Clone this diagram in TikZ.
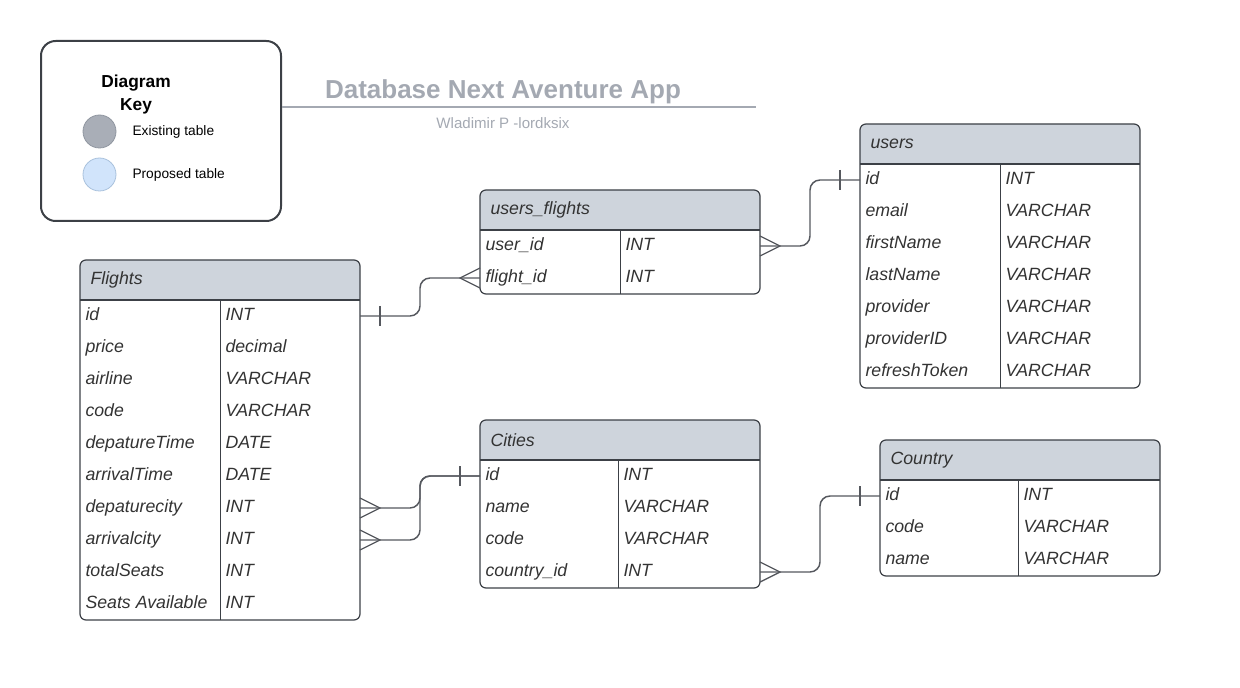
\documentclass[tikz,border=0pt]{standalone}
\usepackage{fontspec}
\setmainfont{Liberation Sans}
\definecolor{hdrc}{RGB}{206,212,220}
\definecolor{existc}{RGB}{169,174,183}
\definecolor{propc}{RGB}{209,228,251}
\definecolor{framec}{RGB}{60,64,70}
\definecolor{linkc}{RGB}{85,88,94}
\definecolor{txtc}{RGB}{51,51,51}
\definecolor{ttlc}{RGB}{164,169,178}
\tikzset{every picture/.style={line width=0.75pt}}
\tikzset{
  tblhead/.style={fill=hdrc, rounded corners=4.5pt, minimum width=210pt, minimum height=30pt, inner sep=0pt, outer sep=0pt, anchor=north west},
  tblframe/.style={draw=framec, line width=0.9pt, rounded corners=4.5pt, minimum width=210pt, inner sep=0pt, outer sep=0pt, anchor=north west},
  tbltitle/.style={anchor=west, inner sep=0pt, text=txtc, font=\fontsize{13.3}{16}\selectfont\itshape},
  fld/.style={anchor=west, inner sep=0pt, text height=0.7em, text depth=0pt, text=txtc, font=\fontsize{13.3}{16}\selectfont\itshape},
  link/.style={draw=linkc, line width=1.1pt, rounded corners=7.5pt},
  erline/.style={draw=linkc, line width=1pt},
  keydot/.style={circle, minimum size=24.75pt, inner sep=0pt, line width=0.6pt}
}

\begin{document}
\begin{tikzpicture}[x=0.75pt,y=0.75pt,yscale=-1,xscale=1]
\useasboundingbox (0,0) rectangle (1240,688);

%Shape: Diagram key
\node[draw=framec, line width=1.5pt, rounded corners=11pt, minimum width=180pt, minimum height=135pt, inner sep=0pt, anchor=north west] (key) at (40,40) {};
% Text Node
\node[align=center, font=\bfseries\fontsize{13}{17.3}\selectfont] (key-t) at (136,94.5) {Diagram\\Key};
\node[keydot, draw={rgb,255:red,144;green,150;blue,160}, fill=existc] (key-ex) at (99.5,131.5) {};
\node[keydot, draw={rgb,255:red,169;green,193;blue,220}, fill=propc] (key-pr) at (99.5,174.5) {};
\node[anchor=west, inner sep=0pt, font=\fontsize{10.3}{12}\selectfont] (key-ext) at (132,132) {Existing table};
\node[anchor=west, inner sep=0pt, font=\fontsize{10.3}{12}\selectfont] (key-prt) at (132,175) {Proposed table};

%Title
\node[inner sep=0pt, text=ttlc, font=\bfseries\fontsize{19.5}{24}\selectfont] (title) at (503,92) {Database Next Aventure App};
\coordinate (rule-end) at (756,107);
\draw[ttlc, line width=1.4pt] (key.east |- rule-end) -- (rule-end);
\node[inner sep=0pt, text=ttlc, font=\fontsize{11.3}{14}\selectfont] (subtitle) at (503,123) {Wladimir P -lordksix};

%Table: Flights
\node[tblhead] (fl-h) at (80,260) {};
\fill[hdrc] (fl-h.west) rectangle (fl-h.south east);
\node[tblframe, minimum height=270pt] (fl) at (80,260) {};
\draw[framec, line width=1.1pt] (fl-h.south west) -- (fl-h.south east);
\draw[framec] ([xshift=105pt]fl-h.south west) -- ([xshift=105pt]fl.south west);
\node[tbltitle] (fl-n) at (90,280) {Flights};
\foreach \f/\t [count=\i] in {id/INT,price/decimal,airline/VARCHAR,code/VARCHAR,depatureTime/DATE,arrivalTime/DATE,depaturecity/INT,arrivalcity/INT,totalSeats/INT,Seats Available/INT}
{
  \node[fld] (fl-\i) at (85,{284+32*\i}) {\f};
  \node[fld] (fl-t\i) at (225,{284+32*\i}) {\t};
}

%Table: users_flights
\node[tblhead] (uf-h) at (480,190) {};
\fill[hdrc] (uf-h.west) rectangle (uf-h.south east);
\node[tblframe, minimum height=78pt] (uf) at (480,190) {};
\draw[framec, line width=1.1pt] (uf-h.south west) -- (uf-h.south east);
\draw[framec] ([xshift=105pt]uf-h.south west) -- ([xshift=105pt]uf.south west);
\node[tbltitle] (uf-n) at (490,210) {users\_flights};
\foreach \f/\t [count=\i] in {user\_id/INT,flight\_id/INT}
{
  \node[fld] (uf-\i) at (485,{214+32*\i}) {\f};
  \node[fld] (uf-t\i) at (625,{214+32*\i}) {\t};
}

%Table: users
\node[tblhead] (us-h) at (860,124) {};
\fill[hdrc] (us-h.west) rectangle (us-h.south east);
\node[tblframe, minimum height=198pt] (us) at (860,124) {};
\draw[framec, line width=1.1pt] (us-h.south west) -- (us-h.south east);
\draw[framec] ([xshift=105pt]us-h.south west) -- ([xshift=105pt]us.south west);
\node[tbltitle] (us-n) at (870,144) {users};
\foreach \f/\t [count=\i] in {id/INT,email/VARCHAR,firstName/VARCHAR,lastName/VARCHAR,provider/VARCHAR,providerID/VARCHAR,refreshToken/VARCHAR}
{
  \node[fld] (us-\i) at (865,{148+32*\i}) {\f};
  \node[fld] (us-t\i) at (1005,{148+32*\i}) {\t};
}

%Table: Cities
\node[tblhead] (ci-h) at (480,420) {};
\fill[hdrc] (ci-h.west) rectangle (ci-h.south east);
\node[tblframe, minimum height=126pt] (ci) at (480,420) {};
\draw[framec, line width=1.1pt] (ci-h.south west) -- (ci-h.south east);
\draw[framec] ([xshift=103.5pt]ci-h.south west) -- ([xshift=103.5pt]ci.south west);
\node[tbltitle] (ci-n) at (490,440) {Cities};
\foreach \f/\t [count=\i] in {id/INT,name/VARCHAR,code/VARCHAR,country\_id/INT}
{
  \node[fld] (ci-\i) at (485,{444+32*\i}) {\f};
  \node[fld] (ci-t\i) at (623,{444+32*\i}) {\t};
}

%Table: Country
\node[tblhead] (co-h) at (880,440) {};
\fill[hdrc] (co-h.west) rectangle (co-h.south east);
\node[tblframe, minimum height=102pt] (co) at (880,440) {};
\draw[framec, line width=1.1pt] (co-h.south west) -- (co-h.south east);
\draw[framec] ([xshift=103.5pt]co-h.south west) -- ([xshift=103.5pt]co.south west);
\node[tbltitle] (co-n) at (890,460) {Country};
\foreach \f/\t [count=\i] in {id/INT,code/VARCHAR,name/VARCHAR}
{
  \node[fld] (co-\i) at (885,{464+32*\i}) {\f};
  \node[fld] (co-t\i) at (1023,{464+32*\i}) {\t};
}

%Relations
% Flights.id -- users_flights.flight_id
\draw[link] (fl-1 -| fl.east) -- ++(60,0) |- (uf-2 -| uf.west);
\draw[erline] (fl-1 -| fl.east) ++(20,-10) -- ++(0,20);
\draw[erline] (uf-2 -| uf.west) ++(0,-10) -- ++(-20,10) -- ++(20,10);
% users_flights.user_id -- users.id
\draw[link] (uf-1 -| uf.east) -- ++(50,0) |- (us-1 -| us.west);
\draw[erline] (uf-1 -| uf.east) ++(0,-10) -- ++(20,10) -- ++(-20,10);
\draw[erline] (us-1 -| us.west) ++(-20,-10) -- ++(0,20);
% Flights.depaturecity, Flights.arrivalcity -- Cities.id
\draw[link] (fl-7 -| fl.east) -- ++(60,0) |- (ci-1 -| ci.west);
\draw[link] (fl-8 -| fl.east) -- ++(60,0) |- (ci-1 -| ci.west);
\draw[erline] (fl-7 -| fl.east) ++(0,-10) -- ++(20,10) -- ++(-20,10);
\draw[erline] (fl-8 -| fl.east) ++(0,-10) -- ++(20,10) -- ++(-20,10);
\draw[erline] (ci-1 -| ci.west) ++(-20,-10) -- ++(0,20);
% Cities.country_id -- Country.id
\draw[link] (ci-4 -| ci.east) -- ++(60,0) |- (co-1 -| co.west);
\draw[erline] (ci-4 -| ci.east) ++(0,-10) -- ++(20,10) -- ++(-20,10);
\draw[erline] (co-1 -| co.west) ++(-20,-10) -- ++(0,20);

\end{tikzpicture}
\end{document}
